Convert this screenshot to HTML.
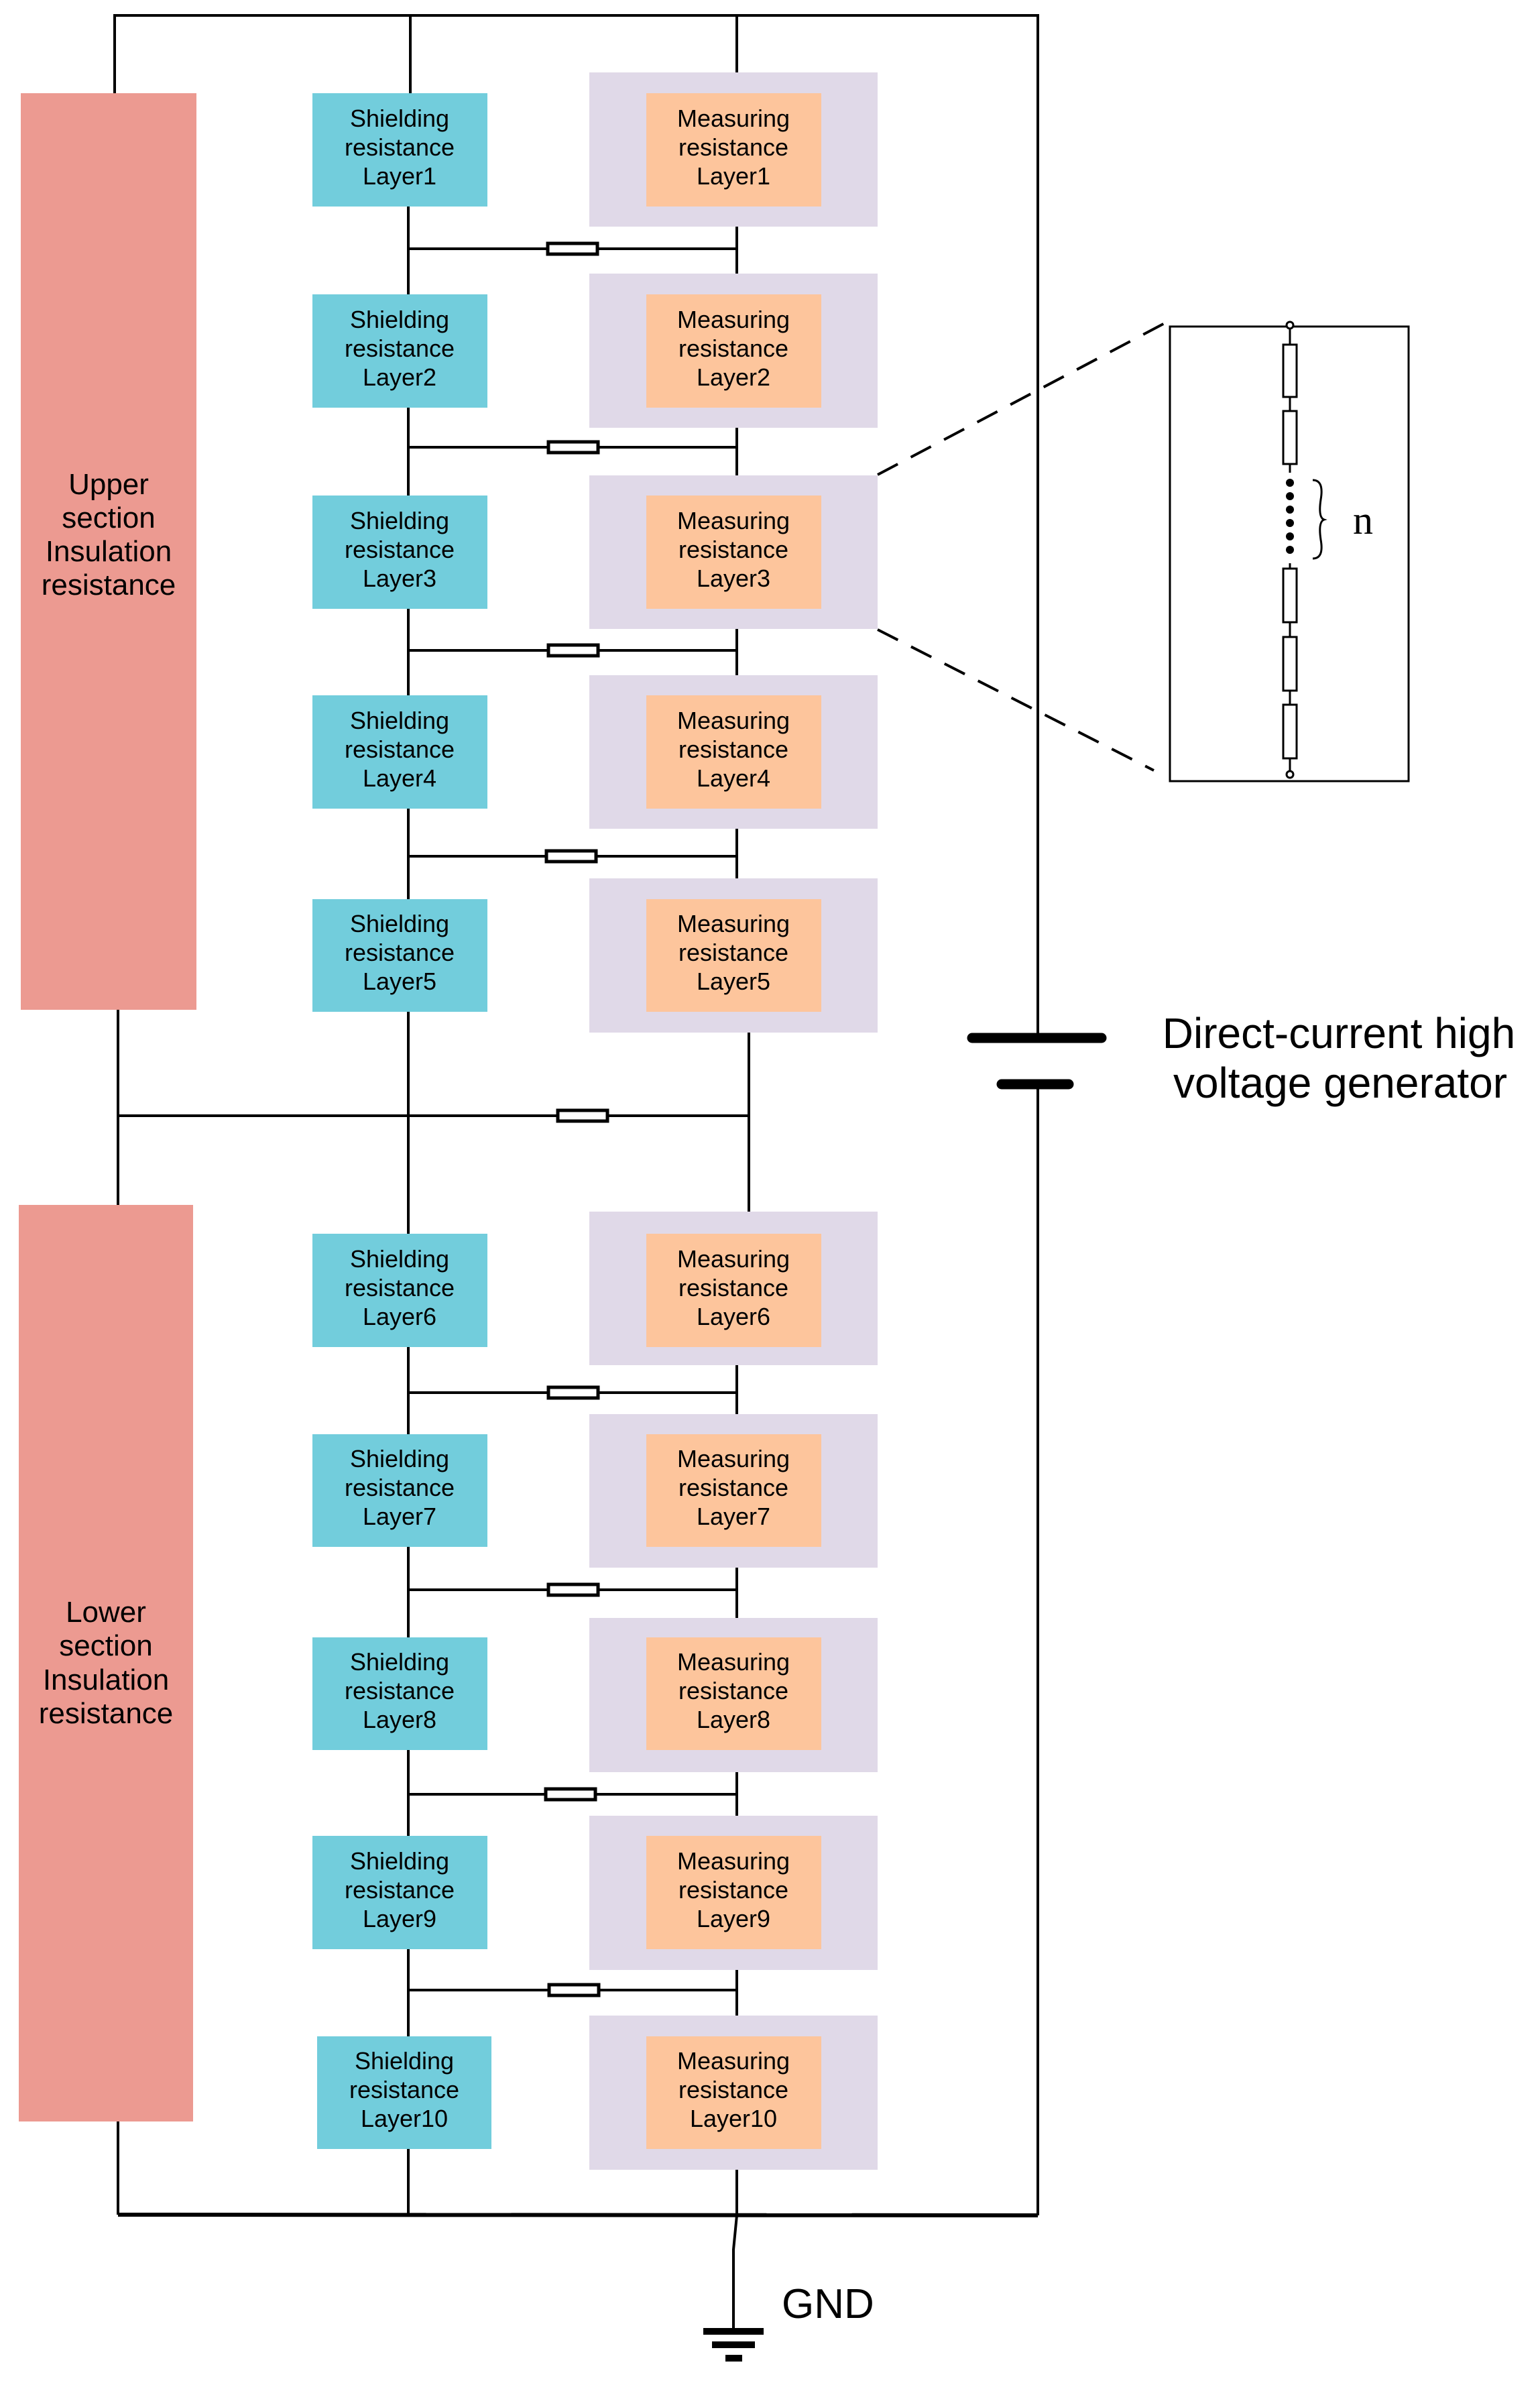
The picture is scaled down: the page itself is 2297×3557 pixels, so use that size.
<!DOCTYPE html>
<html><head><meta charset="utf-8"><style>
html,body{margin:0;padding:0;background:#fff}
svg{display:block}
.t{font-family:"Liberation Sans",sans-serif;font-size:36px;fill:#000;text-anchor:middle}
.p{font-family:"Liberation Sans",sans-serif;font-size:44px;fill:#000;text-anchor:middle}
</style></head><body>
<svg width="2297" height="3557" viewBox="0 0 2297 3557" xmlns="http://www.w3.org/2000/svg">
<g fill="#EC9A91">
<rect x="31" y="139" width="262" height="1367"/>
<rect x="28" y="1797" width="260" height="1367"/>
</g>
<text class="p" x="162"><tspan x="162" y="737">Upper</tspan><tspan x="162" y="787">section</tspan><tspan x="162" y="837">Insulation</tspan><tspan x="162" y="887">resistance</tspan></text>
<text class="p"><tspan x="158" y="2419">Lower</tspan><tspan x="158" y="2469">section</tspan><tspan x="158" y="2520">Insulation</tspan><tspan x="158" y="2570">resistance</tspan></text>

<g fill="none" stroke="#000" stroke-width="4">
<polyline points="171,139 171,23 1548,23 1548,1548"/>
<line x1="1548" y1="1617" x2="1548" y2="3304"/>
<line x1="612" y1="23" x2="612" y2="139"/>
<line x1="1099" y1="23" x2="1099" y2="108"/>
<line x1="609" y1="139" x2="609" y2="3304"/>
<line x1="1099" y1="338" x2="1099" y2="1310"/>
<line x1="1117" y1="1540" x2="1117" y2="1807"/>
<line x1="1099" y1="2036" x2="1099" y2="3304"/>
<line x1="176" y1="1506" x2="176" y2="1797"/>
<line x1="176" y1="3164" x2="176" y2="3303"/>
<line x1="176" y1="1664" x2="1117" y2="1664"/>
<line x1="609" y1="371" x2="1099" y2="371"/>
<line x1="609" y1="667" x2="1099" y2="667"/>
<line x1="609" y1="970" x2="1099" y2="970"/>
<line x1="609" y1="1277" x2="1099" y2="1277"/>
<line x1="609" y1="2077" x2="1099" y2="2077"/>
<line x1="609" y1="2371" x2="1099" y2="2371"/>
<line x1="609" y1="2676" x2="1099" y2="2676"/>
<line x1="609" y1="2968" x2="1099" y2="2968"/>
<polyline points="1099,3304 1094,3355 1094,3472"/>
</g>
<line x1="176" y1="3303" x2="1548" y2="3304" stroke="#000" stroke-width="6"/>

<g fill="#E0D9E8">
<rect x="879" y="108" width="430" height="230"/>
<rect x="879" y="408" width="430" height="230"/>
<rect x="879" y="709" width="430" height="229"/>
<rect x="879" y="1007" width="430" height="229"/>
<rect x="879" y="1310" width="430" height="230"/>
<rect x="879" y="1807" width="430" height="229"/>
<rect x="879" y="2109" width="430" height="229"/>
<rect x="879" y="2413" width="430" height="230"/>
<rect x="879" y="2708" width="430" height="230"/>
<rect x="879" y="3006" width="430" height="230"/>
</g>
<g fill="#72CDDC">
<rect x="466" y="139" width="261" height="169"/>
<rect x="466" y="439" width="261" height="169"/>
<rect x="466" y="739" width="261" height="169"/>
<rect x="466" y="1037" width="261" height="169"/>
<rect x="466" y="1341" width="261" height="168"/>
<rect x="466" y="1840" width="261" height="169"/>
<rect x="466" y="2139" width="261" height="168"/>
<rect x="466" y="2442" width="261" height="168"/>
<rect x="466" y="2738" width="261" height="169"/>
<rect x="473" y="3037" width="260" height="168"/>
</g>
<g fill="#FDC59C">
<rect x="964" y="139" width="261" height="169"/>
<rect x="964" y="439" width="261" height="169"/>
<rect x="964" y="739" width="261" height="169"/>
<rect x="964" y="1037" width="261" height="169"/>
<rect x="964" y="1341" width="261" height="168"/>
<rect x="964" y="1840" width="261" height="169"/>
<rect x="964" y="2139" width="261" height="168"/>
<rect x="964" y="2442" width="261" height="168"/>
<rect x="964" y="2738" width="261" height="169"/>
<rect x="964" y="3037" width="261" height="168"/>
</g>

<g fill="#fff" stroke="#000" stroke-width="5">
<rect x="817" y="363" width="74" height="16"/>
<rect x="818" y="659" width="74" height="16"/>
<rect x="818" y="962" width="74" height="16"/>
<rect x="815" y="1269" width="74" height="16"/>
<rect x="832" y="1656" width="74" height="16"/>
<rect x="818" y="2069" width="74" height="16"/>
<rect x="818" y="2363" width="74" height="16"/>
<rect x="814" y="2668" width="74" height="16"/>
<rect x="819" y="2960" width="74" height="16"/>
</g>

<g class="t">
<text class="t"><tspan x="596" y="189">Shielding</tspan><tspan x="596" y="232">resistance</tspan><tspan x="596" y="275">Layer1</tspan></text>
<text class="t"><tspan x="596" y="489">Shielding</tspan><tspan x="596" y="532">resistance</tspan><tspan x="596" y="575">Layer2</tspan></text>
<text class="t"><tspan x="596" y="789">Shielding</tspan><tspan x="596" y="832">resistance</tspan><tspan x="596" y="875">Layer3</tspan></text>
<text class="t"><tspan x="596" y="1087">Shielding</tspan><tspan x="596" y="1130">resistance</tspan><tspan x="596" y="1173">Layer4</tspan></text>
<text class="t"><tspan x="596" y="1390">Shielding</tspan><tspan x="596" y="1433">resistance</tspan><tspan x="596" y="1476">Layer5</tspan></text>
<text class="t"><tspan x="596" y="1890">Shielding</tspan><tspan x="596" y="1933">resistance</tspan><tspan x="596" y="1976">Layer6</tspan></text>
<text class="t"><tspan x="596" y="2188">Shielding</tspan><tspan x="596" y="2231">resistance</tspan><tspan x="596" y="2274">Layer7</tspan></text>
<text class="t"><tspan x="596" y="2491">Shielding</tspan><tspan x="596" y="2534">resistance</tspan><tspan x="596" y="2577">Layer8</tspan></text>
<text class="t"><tspan x="596" y="2788">Shielding</tspan><tspan x="596" y="2831">resistance</tspan><tspan x="596" y="2874">Layer9</tspan></text>
<text class="t"><tspan x="603" y="3086">Shielding</tspan><tspan x="603" y="3129">resistance</tspan><tspan x="603" y="3172">Layer10</tspan></text>

<text class="t"><tspan x="1094" y="189">Measuring</tspan><tspan x="1094" y="232">resistance</tspan><tspan x="1094" y="275">Layer1</tspan></text>
<text class="t"><tspan x="1094" y="489">Measuring</tspan><tspan x="1094" y="532">resistance</tspan><tspan x="1094" y="575">Layer2</tspan></text>
<text class="t"><tspan x="1094" y="789">Measuring</tspan><tspan x="1094" y="832">resistance</tspan><tspan x="1094" y="875">Layer3</tspan></text>
<text class="t"><tspan x="1094" y="1087">Measuring</tspan><tspan x="1094" y="1130">resistance</tspan><tspan x="1094" y="1173">Layer4</tspan></text>
<text class="t"><tspan x="1094" y="1390">Measuring</tspan><tspan x="1094" y="1433">resistance</tspan><tspan x="1094" y="1476">Layer5</tspan></text>
<text class="t"><tspan x="1094" y="1890">Measuring</tspan><tspan x="1094" y="1933">resistance</tspan><tspan x="1094" y="1976">Layer6</tspan></text>
<text class="t"><tspan x="1094" y="2188">Measuring</tspan><tspan x="1094" y="2231">resistance</tspan><tspan x="1094" y="2274">Layer7</tspan></text>
<text class="t"><tspan x="1094" y="2491">Measuring</tspan><tspan x="1094" y="2534">resistance</tspan><tspan x="1094" y="2577">Layer8</tspan></text>
<text class="t"><tspan x="1094" y="2788">Measuring</tspan><tspan x="1094" y="2831">resistance</tspan><tspan x="1094" y="2874">Layer9</tspan></text>
<text class="t"><tspan x="1094" y="3086">Measuring</tspan><tspan x="1094" y="3129">resistance</tspan><tspan x="1094" y="3172">Layer10</tspan></text>
</g>

<!-- battery -->
<line x1="1450" y1="1548" x2="1643" y2="1548" stroke="#000" stroke-width="15" stroke-linecap="round"/>
<line x1="1494" y1="1617" x2="1594" y2="1617" stroke="#000" stroke-width="15" stroke-linecap="round"/>
<text font-family="Liberation Sans, sans-serif" font-size="64" text-anchor="middle"><tspan x="1997" y="1563">Direct-current high</tspan><tspan x="1999" y="1637">voltage generator</tspan></text>

<!-- zoom detail -->
<g fill="none" stroke="#000" stroke-width="4" stroke-dasharray="34,22">
<line x1="1309" y1="708" x2="1741" y2="480"/>
<line x1="1309" y1="939" x2="1721" y2="1149"/>
</g>
<rect x="1745" y="487" width="356" height="678" fill="none" stroke="#000" stroke-width="3"/>
<g stroke="#000" stroke-width="3" fill="#fff">
<line x1="1924" y1="485" x2="1924" y2="705"/>
<line x1="1924" y1="840" x2="1924" y2="1155"/>
<rect x="1914" y="514" width="20" height="78"/>
<rect x="1914" y="613" width="20" height="79"/>
<rect x="1914" y="848" width="20" height="80"/>
<rect x="1914" y="950" width="20" height="80"/>
<rect x="1914" y="1051" width="20" height="80"/>
<circle cx="1924" cy="485" r="5"/>
<circle cx="1924" cy="1155" r="5"/>
</g>
<g fill="#000">
<circle cx="1924" cy="720" r="6"/><circle cx="1924" cy="740" r="6"/><circle cx="1924" cy="760" r="6"/><circle cx="1924" cy="780" r="6"/><circle cx="1924" cy="800" r="6"/><circle cx="1924" cy="820" r="6"/>
</g>
<path d="M1958,716 Q1975,716 1970,745 Q1966,772 1975,775 Q1966,778 1970,805 Q1975,833 1958,833" fill="none" stroke="#000" stroke-width="3"/>
<text x="2018" y="796" font-family="Liberation Serif, serif" font-size="60">n</text>

<!-- ground -->
<rect x="1049" y="3472" width="90" height="10" fill="#000"/>
<rect x="1062" y="3492" width="64" height="10" fill="#000"/>
<rect x="1082" y="3512" width="25" height="10" fill="#000"/>
<text x="1166" y="3457" font-family="Liberation Sans, sans-serif" font-size="62">GND</text>
</svg>
</body></html>
